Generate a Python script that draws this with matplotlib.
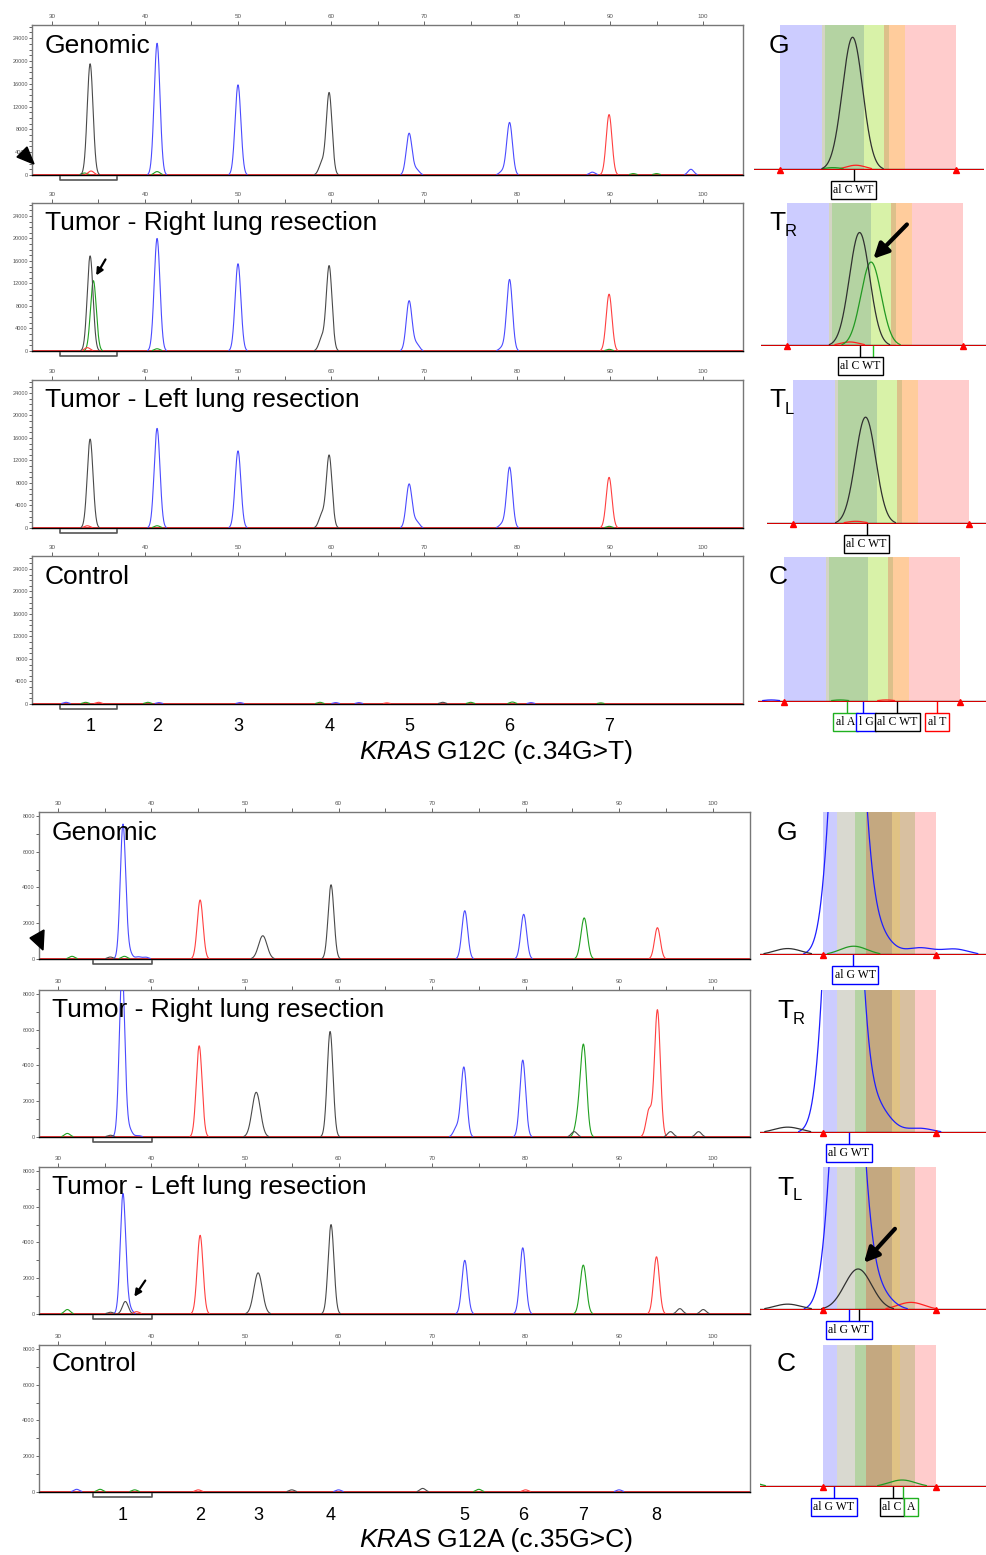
import numpy as np
import matplotlib.pyplot as plt
from matplotlib.patches import Polygon
from matplotlib.transforms import blended_transform_factory

plt.rcParams['font.family'] = ['Liberation Sans', 'DejaVu Sans']

W, H = 987, 1555

# trace colours per dye
dye_colors = {"b": "#4b4bff", "g": "#20a020", "k": "#4a4a4a", "r": "#ff4040"}
zoom_colors = {"b": "#1e1eff", "g": "#229922", "k": "#303030", "r": "#ff2020"}
SIG = 0.31  # default peak sigma (bp)

# ---------------- KRAS G12C block ----------------
g12c_names = ["Genomic", "Tumor - Right lung resection", "Tumor - Left lung resection", "Control"]
g12c_labels = ["1", "2", "3", "4", "5", "6", "7"]
g12c_pos = [34.1, 41.3, 50.0, 59.8, 68.4, 79.2, 89.9]
g12c_dyes = ["k", "b", "b", "k", "b", "b", "r"]
g12c_gen = [19500, 23100, 15800, 14400, 7300, 9200, 10600]
g12c_tr = [16900, 20000, 15500, 15100, 8900, 12700, 10100]
g12c_tl = [15800, 17700, 13700, 12900, 7800, 10800, 9000]
g12c_ctl = [0, 0, 0, 0, 0, 0, 0]
# mutant peak, shoulders and baseline noise: (size, height, dye)
g12c_gen_extra = [(34.2, 700, "r"), (33.5, 350, "g"), (41.3, 600, "g"), (59.0, 2000, "k"),
                  (69.2, 900, "b"), (78.4, 600, "b"), (88.1, 500, "b"), (98.7, 1000, "b"),
                  (92.5, 250, "g"), (95.0, 250, "g")]
g12c_tr_extra = [(34.45, 12500, "g"), (33.8, 600, "r"), (59.0, 2200, "k"), (69.2, 1200, "b"),
                 (78.4, 600, "b"), (89.9, 300, "g"), (41.3, 400, "g")]
g12c_tl_extra = [(33.8, 400, "r"), (59.0, 2300, "k"), (69.2, 1100, "b"), (78.4, 700, "b"),
                 (89.9, 300, "g"), (41.3, 400, "g")]
g12c_ctl_extra = [(31.5, 300, "b"), (33.6, 300, "g"), (35.0, 300, "r"), (40.3, 300, "g"),
                  (41.5, 250, "b"), (50.2, 250, "b"), (58.8, 300, "g"), (60.5, 250, "b"),
                  (63.0, 250, "b"), (66.0, 200, "r"), (72.0, 300, "k"), (75.0, 300, "g"),
                  (79.5, 350, "g"), (81.5, 250, "b"), (89.0, 200, "g")]
g12c_bin_edges = [31.89, 33.16, 33.25, 34.46, 35.07, 35.22, 35.71, 37.25]
g12c_bin_colors = ["#ccccff", "#d4d4c4", "#b4d3a2", "#d8f2a8", "#dcc08a", "#ffcc9c", "#ffcccc"]

# ---------------- KRAS G12A block ----------------
g12a_names = g12c_names
g12a_labels = ["1", "2", "3", "4", "5", "6", "7", "8"]
g12a_dyes = ["b", "r", "k", "k", "b", "b", "g", "r"]
g12a_sigma = [0.29, 0.31, 0.45, 0.31, 0.31, 0.31, 0.33, 0.31]
g12a_gen_pos = [36.95, 45.2, 51.9, 59.2, 73.5, 79.8, 86.3, 94.1]
g12a_tr_pos = [36.85, 45.1, 51.2, 59.1, 73.4, 79.7, 86.2, 94.1]
g12a_tl_pos = [36.95, 45.2, 51.4, 59.2, 73.5, 79.7, 86.2, 94.0]
g12a_gen = [7500, 3300, 1300, 4150, 2700, 2500, 2100, 1750]
g12a_tr = [9500, 5100, 2500, 5900, 3900, 4300, 5050, 7100]
g12a_tl = [6700, 4400, 2300, 5000, 3000, 3700, 2400, 3200]
g12a_ctl = [0, 0, 0, 0, 0, 0, 0, 0]
g12a_gen_extra = [(31.5, 150, "g"), (35.6, 110, "k"), (37.1, 150, "g"), (37.6, 400, "b"),
                  (38.6, 120, "b"), (39.4, 100, "b"), (86.0, 300, "g")]
g12a_tr_extra = [(35.6, 100, "k"), (37.6, 450, "b"), (38.6, 80, "b"), (72.6, 500, "b"),
                 (85.6, 900, "g"), (93.2, 1500, "r"), (95.5, 300, "k"), (98.5, 300, "k"),
                 (31.0, 200, "g"), (85.2, 300, "k")]
g12a_tl_extra = [(37.2, 700, "k"), (35.6, 100, "k"), (37.6, 350, "b"), (38.4, 130, "r"),
                 (31.0, 250, "g"), (86.0, 400, "g"), (96.5, 300, "k"), (99.0, 250, "k")]
g12a_ctl_extra = [(32.0, 150, "b"), (34.5, 150, "g"), (38.2, 120, "g"), (45.0, 120, "r"),
                  (55.0, 120, "k"), (60.0, 120, "b"), (69.0, 200, "k"), (75.0, 150, "g"),
                  (80.0, 120, "r"), (90.0, 120, "b")]
g12a_bin_edges = [36.40, 36.72, 37.13, 37.38, 37.97, 38.15, 38.49, 38.97]
g12a_bin_colors = ["#ccccff", "#d9d9d0", "#b5d3a3", "#c4a880", "#e0c284", "#d8c0a0", "#ffcccc"]


def build(pos, heights, dyes, extra, sigmas=None):
    out = []
    for i, (p, h, d) in enumerate(zip(pos, heights, dyes)):
        s = sigmas[i] if sigmas else SIG
        out.append((p, h, d, s))
    for p, h, d in extra:
        out.append((p, h, d, SIG))
    return out


def curve(x, peaks, dye):
    y = np.zeros_like(x)
    for p, h, d, s in peaks:
        if d == dye and h > 0:
            y += h * np.exp(-0.5 * ((x - p) / s) ** 2)
    return y


fig = plt.figure(figsize=(W / 100, H / 100), dpi=100)


def px_axes(x0, y0, x1, y1):
    return fig.add_axes([x0 / W, 1 - y1 / H, (x1 - x0) / W, (y1 - y0) / H])


def ftext(x, y, s, **kw):
    fig.text(x / W, 1 - y / H, s, **kw)


def main_panel(box, xlim, ytop, ymajor, yminor, peaks, bracket):
    ax = px_axes(*box)
    ax.set_xlim(xlim)
    ax.set_ylim(0, ytop)
    x = np.linspace(xlim[0], xlim[1], 6000)
    ax.axhline(0, color="red", lw=1.8, zorder=2)
    for dye in "gbrk":
        y = curve(x, peaks, dye)
        y[y < ytop * 0.004] = np.nan
        ax.plot(x, y, color=dye_colors[dye], lw=0.8, zorder=3)
    ax.xaxis.tick_top()
    ax.set_xticks(range(30, 101, 10))
    ax.set_xticks(range(35, 101, 10), minor=True)
    ax.set_yticks(ymajor)
    ax.set_yticks(yminor, minor=True)
    ax.tick_params(axis="x", which="both", direction="out", length=3, width=0.7,
                   color="#666666", labelsize=4.5, labelcolor="#555555", pad=1.5)
    ax.tick_params(axis="y", which="both", direction="out", length=2, width=0.7,
                   color="#666666", labelsize=4, labelcolor="#555555", pad=1)
    for sp in ax.spines.values():
        sp.set_color("#777777")
        sp.set_linewidth(1)
    ax.spines["bottom"].set_color("black")
    # bracket under allele peak
    tr = blended_transform_factory(ax.transData, ax.transAxes)
    f = 1.0 / (box[3] - box[1])
    ax.plot([bracket[0], bracket[0], bracket[1], bracket[1]],
            [-2 * f, -5 * f, -5 * f, -2 * f], color="#555555", lw=1.2,
            transform=tr, clip_on=False)
    return ax


def zoom_panel(box, xlim, ytop, peaks, edges, colors):
    ax = px_axes(*box)
    ax.set_xlim(xlim)
    ax.set_ylim(0, ytop)
    ax.axis("off")
    for e0, e1, c in zip(edges[:-1], edges[1:], colors):
        ax.axvspan(e0, e1, color=c, lw=0, zorder=0)
    x = np.linspace(xlim[0], xlim[1], 2000)
    ax.axhline(0, color="black", lw=2.4, zorder=2)
    ax.axhline(0, color="red", lw=1.2, zorder=2)
    for dye in "rgbk":
        y = curve(x, peaks, dye)
        y[y < ytop * 0.01] = np.nan
        ax.plot(x, y, color=zoom_colors[dye], lw=0.9, zorder=3)
    ax.plot([edges[0], edges[-1]], [0, 0], ls="", marker="^", ms=4, color="red",
            zorder=4, clip_on=False)
    return ax


def allele_box(ax, xtick, xbox, text, color, drop_px=20, z=10):
    tr = blended_transform_factory(ax.transData, ax.transAxes)
    hpx = ax.get_position().height * H
    f = drop_px / hpx
    ax.plot([xtick, xtick], [0, -f * 0.55], color=color, lw=1, transform=tr,
            clip_on=False, zorder=z)
    ax.text(xbox, -f, text, transform=tr, ha="center", va="center", fontsize=8.5,
            family="Liberation Serif", zorder=z, clip_on=False,
            bbox=dict(boxstyle="square,pad=0.22", fc="white", ec=color, lw=1))


# ---------------- top block: main traces ----------------
top_xlim = (27.85, 104.3)
top_boxes = [(32, 25, 743, 175), (32, 203, 743, 351), (32, 380, 743, 528), (32, 556, 743, 704)]
top_peaks = [build(g12c_pos, g12c_gen, g12c_dyes, g12c_gen_extra),
             build(g12c_pos, g12c_tr, g12c_dyes, g12c_tr_extra),
             build(g12c_pos, g12c_tl, g12c_dyes, g12c_tl_extra),
             build(g12c_pos, g12c_ctl, g12c_dyes, g12c_ctl_extra)]
top_label_y = [46, 223, 400, 577]
top_axes = []
for box, pk, name, ly in zip(top_boxes, top_peaks, g12c_names, top_label_y):
    a = main_panel(box, top_xlim, 26300, range(0, 24001, 4000), range(0, 26001, 1000),
                   pk, (30.86, 37.0))
    top_axes.append(a)
    ftext(45, ly, name, fontsize=19, ha="left", va="center")

top_axes[1].annotate("", xy=(34.6, 13000), xytext=(35.9, 16700),
                     arrowprops=dict(arrowstyle="-|>", color="black", lw=1.6, mutation_scale=10))

for lab, p in zip(g12c_labels, g12c_pos):
    ax = top_axes[3]
    ax.text(p, -23.0 / 148, lab, transform=blended_transform_factory(ax.transData, ax.transAxes),
            ha="center", va="center", fontsize=13)
ftext(431, 752, "KRAS", fontsize=19, style="italic", ha="right", va="center")
ftext(437, 752, "G12C (c.34G>T)", fontsize=19, ha="left", va="center")

# ---------------- top block: zoomed allele windows ----------------
zl = (31.1, 38.1)
top_zoom_boxes = [(754, 25, 984, 170), (761, 203, 991, 346), (767, 380, 997, 524), (758, 557, 988, 702)]
tz = []
for box, pk in zip(top_zoom_boxes, top_peaks):
    tz.append(zoom_panel(box, zl, 21300, pk, g12c_bin_edges, g12c_bin_colors))
allele_box(tz[0], 34.13, 34.13, "al C WT", "black")
tz[1].plot([34.5, 34.5], [0, -0.07], color="#20c020", lw=1,
           transform=blended_transform_factory(tz[1].transData, tz[1].transAxes), clip_on=False)
allele_box(tz[1], 34.1, 34.13, "al C WT", "black")
allele_box(tz[2], 34.13, 34.13, "al C WT", "black")
allele_box(tz[3], 33.8, 33.76, "al A", "#20b020")
allele_box(tz[3], 34.31, 34.4, "l G", "blue")
allele_box(tz[3], 35.34, 35.34, "al C WT", "black")
allele_box(tz[3], 36.55, 36.55, "al T", "red")
tz[1].annotate("", xy=(34.46, 12700), xytext=(35.6, 18400),
               arrowprops=dict(arrowstyle="-|>", color="black", lw=3, mutation_scale=22))
ftext(769, 46, "G", fontsize=19, ha="left", va="center")
ftext(769, 223, "T", fontsize=19, ha="left", va="center")
ftext(785, 232, "R", fontsize=12, ha="left", va="center")
ftext(769, 400, "T", fontsize=19, ha="left", va="center")
ftext(785, 409, "L", fontsize=12, ha="left", va="center")
ftext(769, 577, "C", fontsize=19, ha="left", va="center")

# ---------------- bottom block: main traces ----------------
bot_xlim = (27.97, 104.0)
bot_boxes = [(39, 812, 750, 959), (39, 990, 750, 1137), (39, 1167, 750, 1314), (39, 1345, 750, 1492)]
bot_peaks = [build(g12a_gen_pos, g12a_gen, g12a_dyes, g12a_gen_extra, g12a_sigma),
             build(g12a_tr_pos, g12a_tr, g12a_dyes, g12a_tr_extra, g12a_sigma),
             build(g12a_tl_pos, g12a_tl, g12a_dyes, g12a_tl_extra, g12a_sigma),
             build(g12a_gen_pos, g12a_ctl, g12a_dyes, g12a_ctl_extra, g12a_sigma)]
bot_label_y = [833, 1010, 1187, 1364]
bot_axes = []
for box, pk, name, ly in zip(bot_boxes, bot_peaks, g12a_names, bot_label_y):
    a = main_panel(box, bot_xlim, 8220, range(0, 8001, 2000), range(0, 8001, 1000),
                   pk, (33.74, 40.05))
    bot_axes.append(a)
    ftext(52, ly, name, fontsize=19, ha="left", va="center")

bot_axes[2].annotate("", xy=(38.0, 840), xytext=(39.5, 2000),
                     arrowprops=dict(arrowstyle="-|>", color="black", lw=1.6, mutation_scale=10))

for lab, p in zip(g12a_labels, g12a_tl_pos):
    ax = bot_axes[3]
    ax.text(p, -23.0 / 147, lab, transform=blended_transform_factory(ax.transData, ax.transAxes),
            ha="center", va="center", fontsize=13)
ftext(431, 1540, "KRAS", fontsize=19, style="italic", ha="right", va="center")
ftext(437, 1540, "G12A (c.35G>C)", fontsize=19, ha="left", va="center")

# ---------------- bottom block: zoomed allele windows ----------------
zl2 = (34.97, 40.13)
bot_zoom_boxes = [(760, 812, 987, 955), (760, 990, 987, 1133), (760, 1167, 987, 1310), (760, 1345, 987, 1487)]
bz = []
for box, pk in zip(bot_zoom_boxes, bot_peaks):
    bz.append(zoom_panel(box, zl2, 2440, pk, g12a_bin_edges, g12a_bin_colors))
allele_box(bz[0], 37.08, 37.13, "al G WT", "blue")
allele_box(bz[1], 36.99, 36.99, "al G WT", "blue")
bz[2].plot([37.22, 37.22], [0, -0.07], color="black", lw=1,
           transform=blended_transform_factory(bz[2].transData, bz[2].transAxes), clip_on=False)
allele_box(bz[2], 36.99, 36.99, "al G WT", "blue")
allele_box(bz[3], 36.65, 36.65, "al G WT", "blue")
allele_box(bz[3], 38.0, 37.97, "al C", "black")
allele_box(bz[3], 38.22, 38.4, "A", "#20b020")
bz[2].annotate("", xy=(37.29, 770), xytext=(38.08, 1420),
               arrowprops=dict(arrowstyle="-|>", color="black", lw=3, mutation_scale=22))
ftext(777, 833, "G", fontsize=19, ha="left", va="center")
ftext(777, 1011, "T", fontsize=19, ha="left", va="center")
ftext(793, 1019, "R", fontsize=12, ha="left", va="center")
ftext(777, 1188, "T", fontsize=19, ha="left", va="center")
ftext(793, 1196, "L", fontsize=12, ha="left", va="center")
ftext(777, 1364, "C", fontsize=19, ha="left", va="center")

# black arrowheads marking the first peak window
for tri in ([(17, 157), (27, 147), (34, 164)], [(30, 938), (44, 930), (43, 950)]):
    pts = [(px / W, 1 - py / H) for px, py in tri]
    fig.patches.append(Polygon(pts, closed=True, color="black", transform=fig.transFigure))

fig.savefig("out.png", dpi=100)
